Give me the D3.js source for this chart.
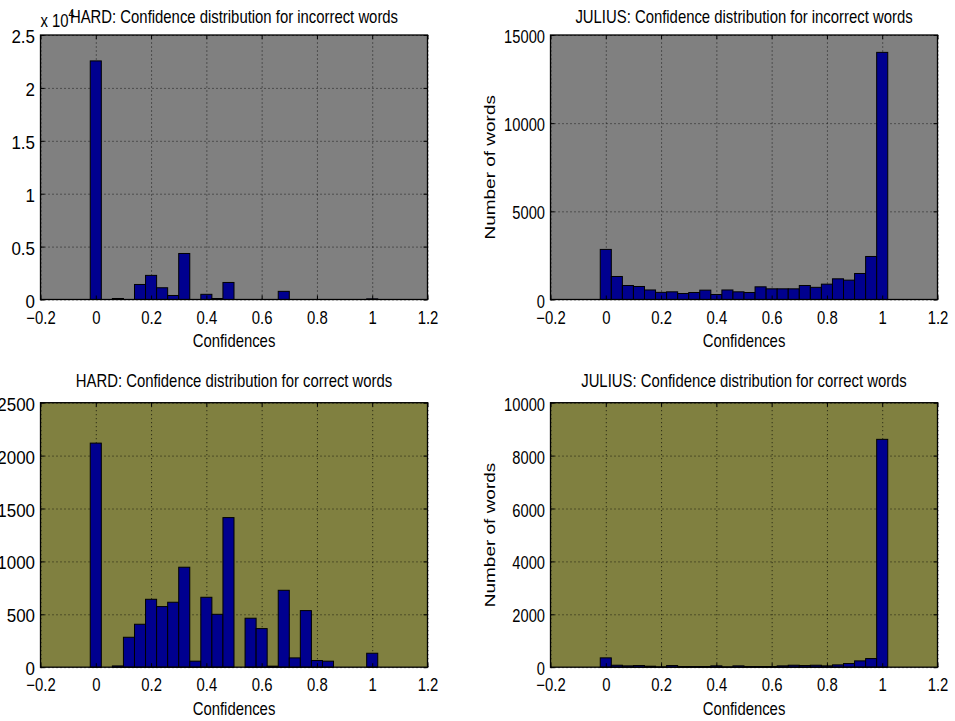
<!DOCTYPE html>
<html>
<head>
<meta charset="utf-8">
<script src="https://cdn.jsdelivr.net/npm/d3@7"></script>
<style>
  body { margin: 0; background: #fff; }
  svg { display: block; }
  text { font-family: "Liberation Sans", Arial, Helvetica, sans-serif; fill: #000; }
</style>
</head>
<body>
<svg id="drawing_region"></svg>
<script>
// bin centres of the histograms
const binCenters = [0, 0.04, 0.08, 0.12, 0.16, 0.2, 0.24, 0.28, 0.32, 0.36, 0.4, 0.44, 0.48,
    0.52, 0.56, 0.6, 0.64, 0.68, 0.72, 0.76, 0.8, 0.84, 0.88, 0.92, 0.96, 1];

// counts
const hardIncorrect = [22550, 0, 95, 0, 1420, 2280, 1110, 380, 4350, 0, 490, 95, 1610,
    0, 0, 0, 0, 770, 0, 0, 0, 0, 0, 0, 0, 60];
const juliusIncorrect = [2840, 1305, 794, 738, 540, 405, 435, 340, 397, 530, 284, 540, 435,
    397, 719, 605, 605, 605, 794, 690, 870, 1173, 1097, 1475, 2440, 14015];
const hardCorrect = [2118, 0, 12, 283, 406, 642, 573, 614, 945, 57, 661, 500, 1414,
    0, 463, 365, 10, 727, 88, 535, 63, 57, 0, 0, 0, 132];
const juliusCorrect = [353, 75, 50, 63, 38, 12, 63, 25, 25, 25, 50, 12, 50,
    25, 25, 25, 50, 75, 63, 75, 50, 88, 139, 239, 327, 8615];

const xTicks = [-0.2, 0, 0.2, 0.4, 0.6, 0.8, 1, 1.2];
const yTicksHardIncorrect = [0, 5000, 10000, 15000, 20000, 25000];
const yTicksJuliusIncorrect = [0, 5000, 10000, 15000];
const yTicksHardCorrect = [0, 500, 1000, 1500, 2000, 2500];
const yTicksJuliusCorrect = [0, 2000, 4000, 6000, 8000, 10000];

const titles = [
    "HARD: Confidence distribution for incorrect words",
    "JULIUS: Confidence distribution for incorrect words",
    "HARD: Confidence distribution for correct words",
    "JULIUS: Confidence distribution for correct words"
];

const W = 955, H = 721;
const binWidth = 0.04;
const fontSize = 17.5, sx = 0.85;

const panels = [
    { title: titles[0], values: hardIncorrect, ticks: yTicksHardIncorrect, fmt: d => d / 1e4, exp: true,
      left: 40.5, top: 35, bg: "#808080", titleY: 22.7, ylabel: false, tsx: 0.97 },
    { title: titles[1], values: juliusIncorrect, ticks: yTicksJuliusIncorrect, fmt: d => d,
      left: 550.5, top: 35, bg: "#808080", titleY: 22.7, ylabel: true, tsx: 0.84 },
    { title: titles[2], values: hardCorrect, ticks: yTicksHardCorrect, fmt: d => d,
      left: 40.5, top: 402.7, bg: "#808040", titleY: 386.7, ylabel: false, tsx: 0.97 },
    { title: titles[3], values: juliusCorrect, ticks: yTicksJuliusCorrect, fmt: d => d,
      left: 550.5, top: 402.7, bg: "#808040", titleY: 386.7, ylabel: true, tsx: 0.84 }
];
const pw = 387, ph = 264.5;

const svg = d3.select("#drawing_region").attr("width", W).attr("height", H);

function label(parent, x, y, str, anchor, size, scaleX) {
    const g = parent.append("g").attr("transform", `translate(${x},${y})`);
    g.append("text")
        .attr("transform", `scale(${scaleX || sx},1)`)
        .attr("text-anchor", anchor)
        .attr("font-size", (size || fontSize) + "px")
        .text(str);
    return g;
}

const fmtTick = d => String(d).replace("-", "\u2212");

panels.forEach(p => {
    const x = d3.scaleLinear().domain([-0.2, 1.2]).range([0, pw]);
    const y = d3.scaleLinear().domain([0, d3.max(p.ticks)]).range([ph, 0]);
    const g = svg.append("g").attr("transform", `translate(${p.left},${p.top})`);

    g.append("rect").attr("width", pw).attr("height", ph).attr("fill", p.bg);

    // dotted grid
    g.append("g").call(d3.axisBottom(x).tickValues(xTicks).tickSize(-ph).tickFormat(""))
        .attr("transform", `translate(0,${ph})`)
        .call(a => a.select(".domain").remove())
        .selectAll("line").attr("stroke", "#000").attr("stroke-dasharray", "1,3").attr("stroke-width", 0.8);
    g.append("g").call(d3.axisLeft(y).tickValues(p.ticks).tickSize(-pw).tickFormat(""))
        .call(a => a.select(".domain").remove())
        .selectAll("line").attr("stroke", "#000").attr("stroke-dasharray", "1,3").attr("stroke-width", 0.8);

    // bars
    g.selectAll("rect.bar")
        .data(binCenters.map((c, i) => ({ c: c, v: p.values[i] })).filter(d => d.v > 0))
        .enter()
        .append("rect")
        .attr("class", "bar")
        .attr("x", d => x(d.c - binWidth / 2))
        .attr("width", d => x(d.c + binWidth / 2) - x(d.c - binWidth / 2))
        .attr("y", d => y(d.v))
        .attr("height", d => ph - y(d.v))
        .attr("fill", "#00008f")
        .attr("stroke", "#000")
        .attr("stroke-width", 1);

    // box
    g.append("rect").attr("width", pw).attr("height", ph)
        .attr("fill", "none").attr("stroke", "#000").attr("stroke-width", 1.3);

    // axes with inward ticks
    const xb = g.append("g").attr("transform", `translate(0,${ph})`)
        .call(d3.axisBottom(x).tickValues(xTicks).tickSize(-4));
    xb.selectAll("text").remove();
    xb.selectAll(".tick").each(function(d) {
        label(d3.select(this), 0, 24, fmtTick(d), "middle");
    });
    g.append("g").call(d3.axisTop(x).tickValues(xTicks).tickSize(-4).tickFormat(""));

    const yl = g.append("g").call(d3.axisLeft(y).tickValues(p.ticks).tickSize(-4));
    yl.selectAll("text").remove();
    yl.selectAll(".tick").each(function(d) {
        label(d3.select(this), -5.5, 7.5, String(p.fmt(d)), "end", fontSize, p.tsx);
    });
    g.append("g").attr("transform", `translate(${pw},0)`)
        .call(d3.axisRight(y).tickValues(p.ticks).tickSize(-4).tickFormat(""));
    g.selectAll(".domain").remove();
    g.selectAll(".tick line").attr("stroke", "#000");

    // labels
    label(g, pw / 2, 47.7 + ph, "Confidences", "middle");
    label(svg, p.left + pw / 2, p.titleY, p.title, "middle");
    if (p.exp) {
        label(svg, p.left, 26.7, "x 10", "start");
        label(svg, p.left + 28, 18, "4", "start", 12.5);
    }
    if (p.ylabel) {
        svg.append("g")
            .attr("transform", `translate(${p.left - 56},${p.top + ph / 2}) rotate(-90) scale(1,0.81)`)
            .append("text")
            .attr("text-anchor", "middle")
            .attr("font-size", "19px")
            .text("Number of words");
    }
});
</script>
</body>
</html>
